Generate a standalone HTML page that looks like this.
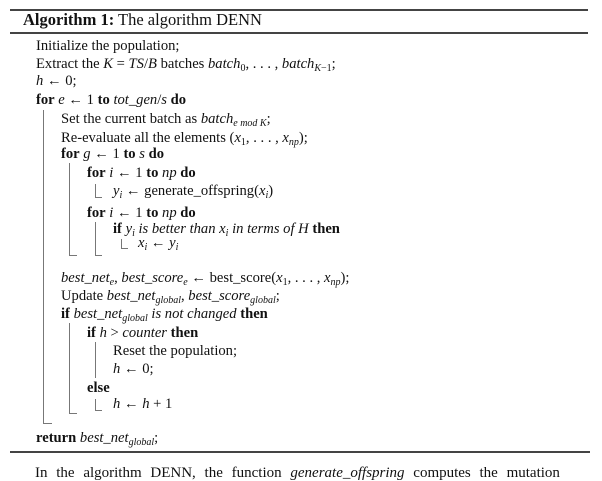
<!DOCTYPE html>
<html><head><meta charset="utf-8"><style>
body{margin:0;width:602px;height:473px;overflow:hidden;background:#fff;font-family:"Liberation Serif",serif;color:#111;position:relative}
.l{position:absolute;font-size:14.6px;line-height:16px;white-space:nowrap}
.t{position:absolute;font-size:16.5px;line-height:18px;white-space:nowrap}
i{font-style:italic}
sub{font-size:10px;vertical-align:-3px;line-height:0}
b{font-weight:bold}
svg{position:absolute;left:0;top:0}
</style></head><body>
<svg width="602" height="473">
<rect x="10" y="9" width="578" height="2" fill="#444"/>
<rect x="10" y="32" width="578" height="2" fill="#444"/>
<rect x="10" y="451" width="580" height="2" fill="#444"/>
<g stroke="#777" stroke-width="1" fill="none">
<path d="M43.5 110V423.5H52"/>
<path d="M69.5 163V255.5H77"/>
<path d="M95.5 184V197.5H102"/>
<path d="M95.5 222V255.5H102"/>
<path d="M121.5 239V248.5H128"/>
<path d="M69.5 323V413.5H77"/>
<path d="M95.5 342V378"/>
<path d="M95.5 399V410.5H102"/>
</g>
</svg>
<div class="t" style="left:23px;top:11px"><b>Algorithm 1:</b> The algorithm DENN</div>
<div class="l" style="left:36px;top:38px">Initialize the population;</div>
<div class="l" style="left:36px;top:56px">Extract the <i>K</i> = <i>TS</i>/<i>B</i> batches <i>batch</i><sub>0</sub>, . . . , <i>batch</i><sub><i>K</i>−1</sub>;</div>
<div class="l" style="left:36px;top:73px"><i>h</i> ← 0;</div>
<div class="l" style="left:36px;top:92px"><b>for</b> <i>e</i> ← 1 <b>to</b> <i>tot_gen</i>/<i>s</i> <b>do</b></div>
<div class="l" style="left:61px;top:111px">Set the current batch as <i>batch</i><sub><i>e</i> <i>mod K</i></sub>;</div>
<div class="l" style="left:61px;top:130px">Re-evaluate all the elements (<i>x</i><sub>1</sub>, . . . , <i>x</i><sub><i>np</i></sub>);</div>
<div class="l" style="left:61px;top:146px"><b>for</b> <i>g</i> ← 1 <b>to</b> <i>s</i> <b>do</b></div>
<div class="l" style="left:87px;top:165px"><b>for</b> <i>i</i> ← 1 <b>to</b> <i>np</i> <b>do</b></div>
<div class="l" style="left:113px;top:183px"><i>y<sub>i</sub></i> ← generate_offspring(<i>x<sub>i</sub></i>)</div>
<div class="l" style="left:87px;top:205px"><b>for</b> <i>i</i> ← 1 <b>to</b> <i>np</i> <b>do</b></div>
<div class="l" style="left:113px;top:221px"><b>if</b> <i>y<sub>i</sub> is better than x<sub>i</sub> in terms of H</i> <b>then</b></div>
<div class="l" style="left:138px;top:235px"><i>x<sub>i</sub></i> ← <i>y<sub>i</sub></i></div>
<div class="l" style="left:61px;top:270px"><i>best_net<sub>e</sub></i>, <i>best_score<sub>e</sub></i> ← best_score(<i>x</i><sub>1</sub>, . . . , <i>x</i><sub><i>np</i></sub>);</div>
<div class="l" style="left:61px;top:288px">Update <i>best_net<sub>global</sub></i>, <i>best_score<sub>global</sub></i>;</div>
<div class="l" style="left:61px;top:306px"><b>if</b> <i>best_net<sub>global</sub> is not changed</i> <b>then</b></div>
<div class="l" style="left:87px;top:325px"><b>if</b> <i>h</i> &gt; <i>counter</i> <b>then</b></div>
<div class="l" style="left:113px;top:343px">Reset the population;</div>
<div class="l" style="left:113px;top:361px"><i>h</i> ← 0;</div>
<div class="l" style="left:87px;top:380px"><b>else</b></div>
<div class="l" style="left:113px;top:396px"><i>h</i> ← <i>h</i> + 1</div>
<div class="l" style="left:36px;top:430px"><b>return</b> <i>best_net<sub>global</sub></i>;</div>
<div class="l" style="left:35px;top:465px;font-size:15px;word-spacing:5px">In the algorithm DENN, the function <i>generate_offspring</i> computes the mutation</div>
</body></html>
